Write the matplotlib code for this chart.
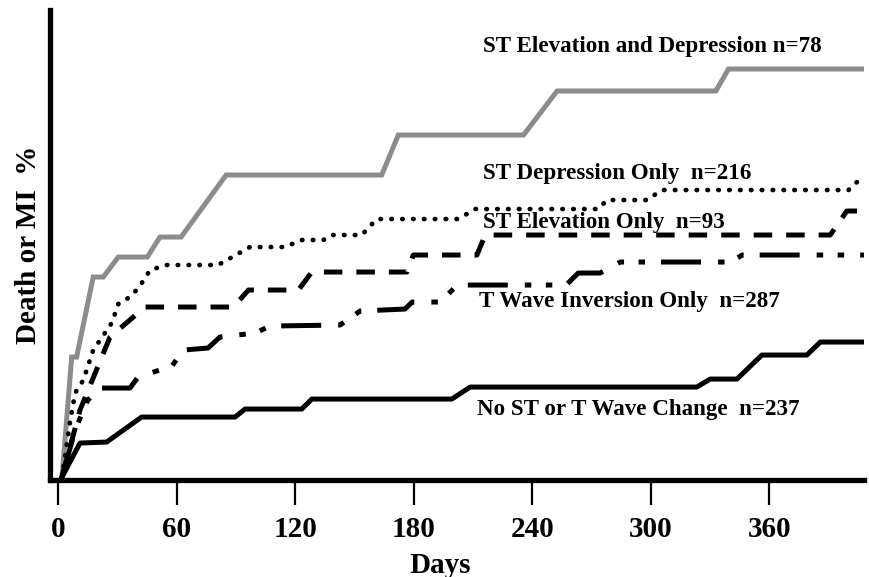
import matplotlib.pyplot as plt

# Données (jours, % cumulé de décès ou IDM)
jours_st_elev_dep = [1.9, 6.8, 9.3, 17.7, 22.8, 30.4, 45.1, 51.5, 62.2, 85.0, 163.8, 172.2,
                     235.6, 252.6, 333.0, 339.4, 409]
taux_st_elev_dep = [0, 6.0, 6.0, 10.0, 10.0, 11.0, 11.0, 12.0, 12.0, 15.1, 15.1, 17.1,
                    17.1, 19.3, 19.3, 20.4, 20.4]

jours_st_dep = [1.9, 5.9, 8.5, 12.7, 17.7, 27.1, 30.4, 36.3, 41.0, 46.5, 54.9, 80.9, 97.1,
                114.8, 123.3, 134.2, 138.5, 153.7, 161.3, 202.6, 211.1, 273.6, 277.8,
                298.1, 305.7, 400.2, 407.1]
taux_st_dep = [0, 2.7, 4.2, 4.85, 6.35, 7.7, 8.65, 9.0, 9.5, 10.35, 10.6, 10.6, 11.5,
               11.5, 11.85, 11.85, 12.1, 12.1, 12.9, 12.9, 13.4, 13.4, 13.85,
               13.85, 14.35, 14.35, 15.0]

jours_st_elev = [1.9, 11.0, 26.2, 43.9, 88.7, 96.3, 121.6, 128.4, 176.6, 179.8, 212.0,
                 216.2, 390.9, 399.3, 409]
taux_st_elev = [0, 3.35, 7.0, 8.5, 8.5, 9.35, 9.35, 10.25, 10.25, 11.1, 11.1,
                12.1, 12.1, 13.3, 13.3]

jours_onde_t = [1.9, 8.5, 15.0, 21.1, 36.3, 40.4, 57.6, 63.2, 75.8, 81.9, 99.6, 107.3,
                142.7, 152.8, 175.6, 179.2, 193.4, 202.0, 257.2, 263.3, 274.4, 284.6,
                340.3, 346.4, 409]
taux_onde_t = [0, 2.35, 3.85, 4.45, 4.45, 5.0, 5.55, 6.35, 6.45, 7.0, 7.2, 7.55,
               7.6, 8.3, 8.4, 8.75, 8.75, 9.6, 9.6, 10.2, 10.2, 10.75,
               10.75, 11.1, 11.1]

jours_aucun = [1.9, 11.0, 24.5, 42.2, 89.5, 94.6, 123.3, 128.4, 199.3, 208.6, 323.4,
               330.1, 343.7, 356.3, 379.1, 385.9, 409]
taux_aucun = [0, 1.7, 1.75, 3.0, 3.0, 3.4, 3.4, 3.9, 3.9, 4.5, 4.5,
              4.9, 4.9, 6.1, 6.1, 6.75, 6.75]

graduations = [0, 60, 120, 180, 240, 300, 360]

police = 'Liberation Serif'

fig = plt.figure(figsize=(8.69, 5.77), dpi=100)
ax = fig.add_axes([0.0575, 0.168, 0.9367, 0.8147])

ax.plot(jours_st_elev_dep, taux_st_elev_dep, color='#8c8c8c', lw=3.6,
        solid_joinstyle='miter')
ax.plot(jours_st_dep, taux_st_dep, color='black', lw=3.4,
        linestyle=(0, (0.1, 2.2)), dash_capstyle='round')
ax.plot(jours_st_elev, taux_st_elev, color='black', lw=3.6,
        linestyle=(0, (3.7, 2.8)))
ax.plot(jours_onde_t, taux_onde_t, color='black', lw=3.6,
        linestyle=(0, (8, 3.4, 1.3, 2.9, 1.3, 3.2)))
ax.plot(jours_aucun, taux_aucun, color='black', lw=3.6)

# Étiquettes des courbes
style = dict(fontfamily=police, fontweight='bold', fontsize=16.6, va='center', ha='left')
ax.text(215.3, 21.5, 'ST Elevation and Depression n=78', **style)
ax.text(215.3, 15.2, 'ST Depression Only  n=216', **style)
ax.text(215.3, 12.75, 'ST Elevation Only  n=93', **style)
ax.text(213.3, 8.8, 'T Wave Inversion Only  n=287', **style)
ax.text(212.0, 3.4, 'No ST or T Wave Change  n=237', **style)

ax.set_xlim(-4.2, 408)
ax.set_ylim(-0.15, 23.35)
ax.set_xticks(graduations)
ax.set_xticklabels([str(g) for g in graduations], fontfamily=police,
                   fontweight='bold', fontsize=21)
ax.set_yticks([])
ax.tick_params(axis='x', direction='out', length=18, width=1.6, pad=8)

for cote in ['top', 'right']:
    ax.spines[cote].set_visible(False)
ax.spines['left'].set_linewidth(3.8)
ax.spines['bottom'].set_linewidth(3.8)

ax.set_xlabel('Days', fontfamily=police, fontweight='bold', fontsize=21, labelpad=6)
ax.xaxis.label.set_x(0.48)
ax.set_ylabel('Death or MI  %', fontfamily=police, fontweight='bold', fontsize=21,
              labelpad=6)

plt.savefig('out.png', dpi=100)
